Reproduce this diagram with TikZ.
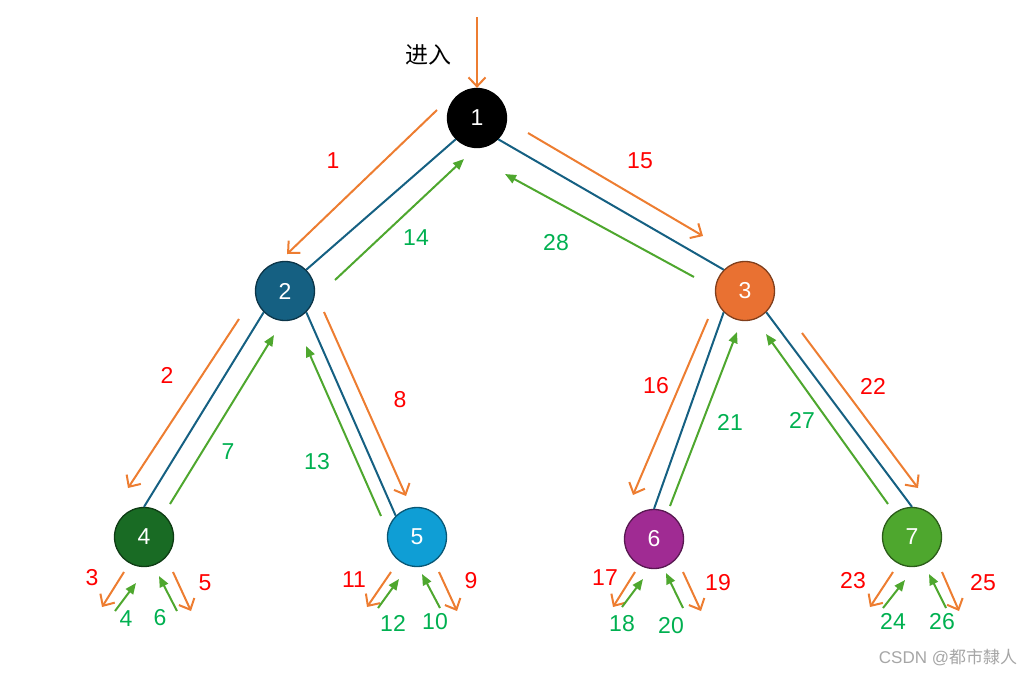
\documentclass[tikz,border=0pt]{standalone}
\usepackage{fontspec}
\setmainfont{Liberation Sans}
\newfontfamily\cjk{Noto Sans CJK SC}
\usetikzlibrary{arrows.meta}
\definecolor{acc1}{HTML}{156082}
\definecolor{acc2}{HTML}{E97132}
\definecolor{acc3}{HTML}{196B24}
\definecolor{acc4}{HTML}{0F9ED5}
\definecolor{acc5}{HTML}{A02B93}
\definecolor{acc6}{HTML}{4EA72E}
\definecolor{orng}{HTML}{ED7D31}
\definecolor{grnarr}{HTML}{4EA72E}
\definecolor{redlab}{HTML}{FF0000}
\definecolor{grnlab}{HTML}{00B050}
\definecolor{wm}{HTML}{A6A6A6}
\begin{document}
\begin{tikzpicture}[x=1pt,y=-1pt,
  circ/.style={circle, minimum size=59pt, inner sep=0pt, line width=1.3pt, text=white,
    font=\fontsize{23}{25}\selectfont, fill=#1, draw=#1!55!black},
  tedge/.style={draw=acc1, line width=2pt},
  fwd/.style={draw=orng, line width=2pt, -{Straight Barb[length=9pt,width=17pt,line width=2pt]}},
  bwd/.style={draw=grnarr, line width=2pt, -{Triangle[length=11pt,width=9pt]}},
  rlab/.style={text=redlab, font=\fontsize{23}{25}\selectfont, inner sep=0pt},
  glab/.style={text=grnlab, font=\fontsize{23}{25}\selectfont, inner sep=0pt}]
\useasboundingbox (0,0) rectangle (1032,675);

% nodes
\node[circ=black, draw=black] (n1) at (477,118) {1};
\node[circ=acc1] (n2) at (285,291) {2};
\node[circ=acc2] (n3) at (745,291) {3};
\node[circ=acc3] (n4) at (144,537) {4};
\node[circ=acc4] (n5) at (417,537) {5};
\node[circ=acc5] (n6) at (654,539) {6};
\node[circ=acc6] (n7) at (912,537) {7};

% tree edges
\draw[tedge] (n1.south west) -- (n2.north east);
\draw[tedge] (n1.south east) -- (n3.north west);
\draw[tedge] (n2.south west) -- (n4.north);
\draw[tedge] (n2.south east) -- (n5.north west);
\draw[tedge] (n3.south west) -- (n6.north);
\draw[tedge] (n3.south east) -- (n7.north);

% entry
\draw[fwd] (477,17) coordinate (e0) -- (n1.north);
\node[font=\cjk\fontsize{23}{25}\selectfont, inner sep=0pt] (entry) at (428,55) {进入};

% traversal arrows
\draw[fwd] (437,110) coordinate (a1s) -- (287,254) coordinate (a1e);
\draw[bwd] (335,280) coordinate (a14s) -- (464,159) coordinate (a14e);
\draw[fwd] (528,133) coordinate (a15s) -- (703,236) coordinate (a15e);
\draw[bwd] (694,277) coordinate (a28s) -- (505,174) coordinate (a28e);
\draw[fwd] (239,319) coordinate (a2s) -- (128,488) coordinate (a2e);
\draw[bwd] (170,504) coordinate (a7s) -- (274,335) coordinate (a7e);
\draw[bwd] (381,516) coordinate (a13s) -- (306,346) coordinate (a13e);
\draw[fwd] (324,312) coordinate (a8s) -- (406,496) coordinate (a8e);
\draw[fwd] (708,319) coordinate (a16s) -- (633,495) coordinate (a16e);
\draw[bwd] (670,506) coordinate (a21s) -- (737,332) coordinate (a21e);
\draw[bwd] (888,504) coordinate (a27s) -- (766,334) coordinate (a27e);
\draw[fwd] (802,333) coordinate (a22s) -- (918,488) coordinate (a22e);

% leaf arrows node 4
\draw[fwd] (124,572) coordinate (a3s) -- (102,607) coordinate (a3e);
\draw[bwd] (115,611) coordinate (a4s) -- (136,583) coordinate (a4e);
\draw[bwd] (177,611) coordinate (a6s) -- (159,576) coordinate (a6e);
\draw[fwd] (173,572) coordinate (a5s) -- (191,611) coordinate (a5e);
% node 5
\draw[fwd] (391,572) coordinate (a11s) -- (367,607) coordinate (a11e);
\draw[bwd] (378,608) coordinate (a12s) -- (399,579) coordinate (a12e);
\draw[bwd] (440,608) coordinate (a10s) -- (422,574) coordinate (a10e);
\draw[fwd] (439,572) coordinate (a9s) -- (457,611) coordinate (a9e);
% node 6
\draw[fwd] (635,572) coordinate (a17s) -- (613,607) coordinate (a17e);
\draw[bwd] (622,607) coordinate (a18s) -- (643,579) coordinate (a18e);
\draw[bwd] (683,608) coordinate (a20s) -- (666,573) coordinate (a20e);
\draw[fwd] (683,572) coordinate (a19s) -- (701,611) coordinate (a19e);
% node 7
\draw[fwd] (893,572) coordinate (a23s) -- (870,607) coordinate (a23e);
\draw[bwd] (883,608) coordinate (a24s) -- (905,580) coordinate (a24e);
\draw[bwd] (946,608) coordinate (a26s) -- (929,574) coordinate (a26e);
\draw[fwd] (942,572) coordinate (a25s) -- (959,611) coordinate (a25e);

% labels
\node[rlab] (l1) at (333,161) {1};
\node[glab] (l14) at (416,238) {14};
\node[rlab] (l15) at (640,161) {15};
\node[glab] (l28) at (556,243) {28};
\node[rlab] (l2) at (167,375) {2};
\node[glab] (l7) at (228,452) {7};
\node[glab] (l13) at (317,462) {13};
\node[rlab] (l8) at (400,400) {8};
\node[rlab] (l16) at (656,386) {16};
\node[glab] (l21) at (730,422) {21};
\node[glab] (l27) at (802,420) {27};
\node[rlab] (l22) at (873,386) {22};

\node[rlab] (l3) at (92,578) {3};
\node[glab] (l4) at (126,619) {4};
\node[glab] (l6) at (160,618) {6};
\node[rlab] (l5) at (205,583) {5};
\node[rlab] (l11) at (354,580) {11};
\node[glab] (l12) at (393,623) {12};
\node[glab] (l10) at (435,622) {10};
\node[rlab] (l9) at (471,581) {9};
\node[rlab] (l17) at (605,578) {17};
\node[glab] (l18) at (622,624) {18};
\node[glab] (l20) at (671,626) {20};
\node[rlab] (l19) at (718,583) {19};
\node[rlab] (l23) at (853,581) {23};
\node[glab] (l24) at (893,621) {24};
\node[glab] (l26) at (942,622) {26};
\node[rlab] (l25) at (983,583) {25};

\node[text=wm, font=\fontsize{17}{19}\selectfont, inner sep=0pt] (wmk) at (948,657) {CSDN @{\cjk 都市隸人}};
\end{tikzpicture}
\end{document}
